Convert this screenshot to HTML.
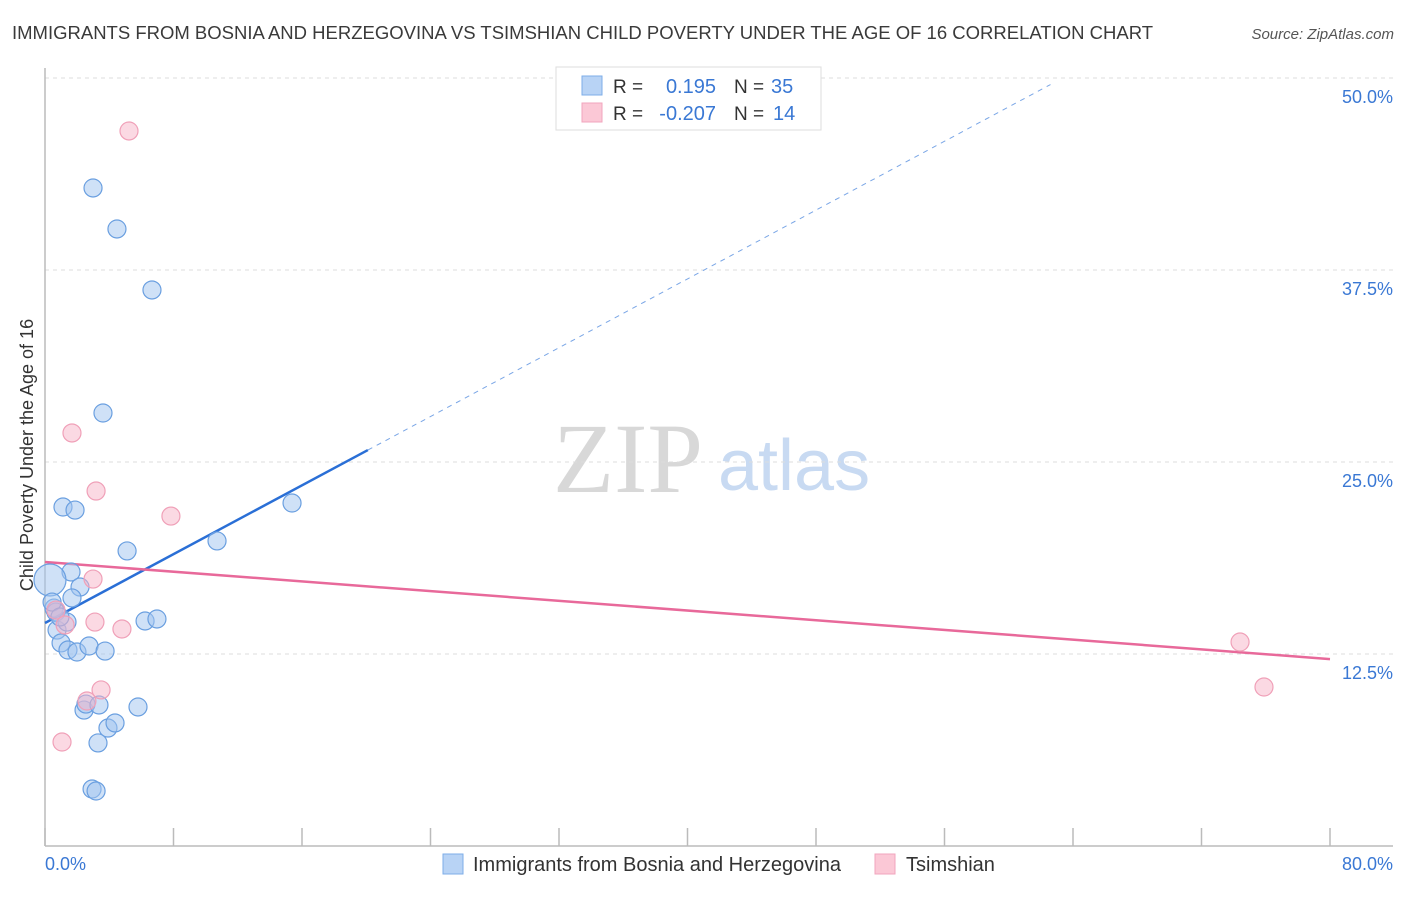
<!DOCTYPE html>
<html><head><meta charset="utf-8"><style>
body{margin:0;background:#fff;font-family:"Liberation Sans",sans-serif;}
svg text{font-family:"Liberation Sans",sans-serif;}
</style></head><body>
<svg id="chart" width="1406" height="892" xmlns="http://www.w3.org/2000/svg">
<text x="12" y="39" font-size="18.5" fill="#3a3a3a">IMMIGRANTS FROM BOSNIA AND HERZEGOVINA VS TSIMSHIAN CHILD POVERTY UNDER THE AGE OF 16 CORRELATION CHART</text>
<text x="1394" y="39" font-size="15" fill="#555" font-style="italic" text-anchor="end">Source: ZipAtlas.com</text>
<text x="553" y="492" font-size="100" fill="#d8d8d8" style="font-family:'Liberation Serif',serif">ZIP</text>
<text x="718" y="490" font-size="72" fill="#c8daf2">atlas</text>
<g id="grid"></g><g id="ticks"></g>
<line x1="45" y1="68" x2="45" y2="846" stroke="#bbb" stroke-width="1.5"/>
<line x1="45" y1="846" x2="1393" y2="846" stroke="#bbb" stroke-width="1.5"/>
<text transform="translate(33,455) rotate(-90)" font-size="18" fill="#333" text-anchor="middle">Child Poverty Under the Age of 16</text>
<text x="45" y="870" font-size="18" fill="#3a78d4">0.0%</text>
<text x="1393" y="870" font-size="18" fill="#3a78d4" text-anchor="end">80.0%</text>
<g id="lines"></g><g id="points"></g>
<g>
<rect x="556" y="67" width="265" height="63" fill="#fff" stroke="#ddd"/>
<rect x="582" y="76" width="20" height="19" fill="#b8d3f5" stroke="#7eaee8"/>
<rect x="582" y="103" width="20" height="19" fill="#fbc8d6" stroke="#f2a5bd"/>
<text x="613" y="93" font-size="19" fill="#333">R =</text>
<text x="716" y="93" font-size="20" fill="#3a78d4" text-anchor="end">0.195</text>
<text x="734" y="93" font-size="19" fill="#333">N =</text>
<text x="771" y="93" font-size="20" fill="#3a78d4">35</text>
<text x="613" y="120" font-size="19" fill="#333">R =</text>
<text x="716" y="120" font-size="20" fill="#3a78d4" text-anchor="end">-0.207</text>
<text x="734" y="120" font-size="19" fill="#333">N =</text>
<text x="773" y="120" font-size="20" fill="#3a78d4">14</text>
</g>
<g>
<rect x="443" y="854" width="20" height="20" fill="#b8d3f5" stroke="#7eaee8"/>
<text x="473" y="871" font-size="20" fill="#333">Immigrants from Bosnia and Herzegovina</text>
</g>
<g>
<rect x="875" y="854" width="20" height="20" fill="#fbc8d6" stroke="#f2a5bd"/>
<text x="906" y="871" font-size="20" fill="#333">Tsimshian</text>
</g>
</svg>
<script>
const yTicks=[12.5,25,37.5,50];
const yTickLabels=["12.5%","25.0%","37.5%","50.0%"];
const blueX=[2.99,4.48,6.66,3.61,1.12,1.87,15.38,10.71,5.11,1.62,2.18,1.68,0.31,0.56,0.68,0.75,1.37,1.00,1.43,1.99,2.74,3.74,6.23,6.97,2.43,2.55,3.36,3.92,4.36,5.79,3.30,2.93,3.18,0.44,0.93];
const blueY=[42.84,40.17,36.20,28.19,22.07,21.87,22.33,19.86,19.21,17.84,16.86,16.15,17.32,15.49,15.23,14.06,14.58,13.22,12.76,12.63,13.02,12.69,14.65,14.78,8.85,9.24,9.18,7.68,8.01,9.05,6.71,3.71,3.58,15.88,14.91];
const pinkX=[5.23,1.68,3.18,7.84,2.99,3.11,4.79,0.68,3.49,2.61,1.06,74.40,75.89,1.25];
const pinkY=[46.55,26.89,23.11,21.48,17.38,14.58,14.13,15.36,10.16,9.44,6.77,13.28,10.35,14.39];
const blueLine=[14.52,0.56]; // intercept, slope
const pinkLine=[18.49,-0.079];
const NS="http://www.w3.org/2000/svg";
const sx=v=>45+v/80*1285;
const sy=v=>846-v/12.5*192;
function mk(tag,attrs,parent){const e=document.createElementNS(NS,tag);for(const k in attrs)e.setAttribute(k,attrs[k]);document.getElementById(parent).appendChild(e);return e;}
yTicks.forEach((t,i)=>{
 const g=mk('line',{x1:45,x2:1393,y1:sy(t),y2:sy(t),stroke:'#ddd','stroke-dasharray':'4,4'},'grid');
 
 
 const tx=mk('text',{x:1393,y:sy(t)+25,'font-size':18,fill:'#3a78d4','text-anchor':'end'},'grid');
 tx.textContent=yTickLabels[i];
 
 
});
for(let i=0;i<=10;i++){
 const t=mk('line',{x1:sx(i*8),x2:sx(i*8),y1:828,y2:846,stroke:'#bbb','stroke-width':1.5},'ticks');
 
 
}
const bx1=20.1,bx2=62.6;
let l=mk('line',{x1:sx(0),y1:sy(blueLine[0]),x2:sx(bx1),y2:sy(blueLine[0]+blueLine[1]*bx1),stroke:'#2a6fd6','stroke-width':2.5},'lines');


l=mk('line',{x1:sx(bx1),y1:sy(blueLine[0]+blueLine[1]*bx1),x2:sx(bx2),y2:sy(blueLine[0]+blueLine[1]*bx2),stroke:'#7aa6e6','stroke-width':1,'stroke-dasharray':'5,5'},'lines');


l=mk('line',{x1:sx(0),y1:sy(pinkLine[0]),x2:sx(80),y2:sy(pinkLine[0]+pinkLine[1]*80),stroke:'#e8699a','stroke-width':2.5},'lines');


blueX.forEach((x,i)=>{
 const c=mk('circle',{cx:sx(x),cy:sy(blueY[i]),r:(i==12?16:9),fill:'rgba(160,196,240,0.5)',stroke:'#6a9fe0','stroke-width':1.2},'points');
 
 
});
pinkX.forEach((x,i)=>{
 const c=mk('circle',{cx:sx(x),cy:sy(pinkY[i]),r:9,fill:'rgba(248,180,200,0.5)',stroke:'#f0a0b8','stroke-width':1.2},'points');
 
 
});
</script>
</body></html>
